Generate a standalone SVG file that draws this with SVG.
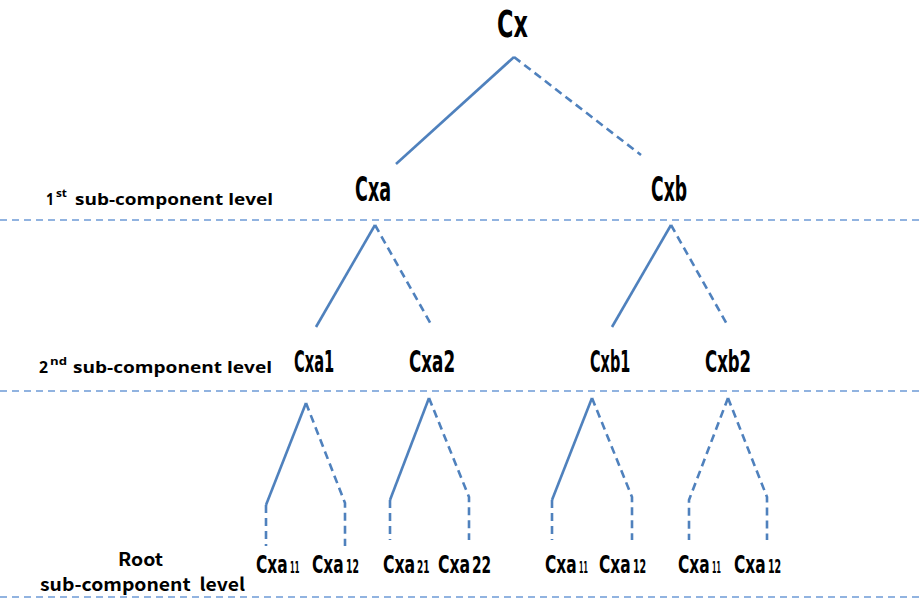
<svg xmlns="http://www.w3.org/2000/svg" width="924" height="601" viewBox="0 0 924 601">
<style>
.bg{fill:#ffffff}
.lvl{fill:none;stroke:#6d9ad6;stroke-width:1.5;stroke-dasharray:7 5}
.s{fill:none;stroke:#4f81bd;stroke-width:2.6;stroke-linecap:butt}
.d{fill:none;stroke:#4f81bd;stroke-width:2.6;stroke-dasharray:8 5}
.n{font-family:"DejaVu Sans",sans-serif;font-weight:bold;fill:#000}
.lab{font-family:"Open Sans","Liberation Sans",sans-serif;font-weight:bold;fill:#000;font-size:16px}
.sup{font-family:"Open Sans","Liberation Sans",sans-serif;font-weight:bold;fill:#000;font-size:10px}
.root{font-family:"Noto Sans CJK KR","Noto Sans",sans-serif;font-weight:bold;fill:#000;font-size:18px}
</style>
<rect class="bg" x="0" y="0" width="924" height="601"/>
<g id="levels">
<line class="lvl" x1="0" y1="220" x2="924" y2="220"/>
<line class="lvl" x1="0" y1="391" x2="924" y2="391"/>
<line class="lvl" x1="0" y1="597" x2="924" y2="597"/>
</g>
<g id="level-labels">
<text class="lab" x="46" y="205" textLength="8" lengthAdjust="spacingAndGlyphs">1</text>
<text class="sup" x="56" y="197" textLength="11" lengthAdjust="spacingAndGlyphs">st</text>
<text class="lab" x="75" y="205" textLength="198" lengthAdjust="spacingAndGlyphs">sub-component level</text>
<text class="lab" x="39" y="373" textLength="9" lengthAdjust="spacingAndGlyphs">2</text>
<text class="sup" x="50" y="365" textLength="17" lengthAdjust="spacingAndGlyphs">nd</text>
<text class="lab" x="73" y="373" textLength="199" lengthAdjust="spacingAndGlyphs">sub-component level</text>
<text class="root" x="118" y="566" textLength="45" lengthAdjust="spacingAndGlyphs">Root</text>
<text class="root" x="40" y="591" textLength="205" lengthAdjust="spacingAndGlyphs" xml:space="preserve">sub-component  level</text>
</g>
<g id="connectors">
<line class="s" x1="514" y1="57" x2="396" y2="164"/>
<line class="d" x1="514" y1="57" x2="641" y2="155"/>
<line class="s" x1="375" y1="225" x2="316" y2="327"/>
<line class="d" x1="375" y1="225" x2="432" y2="326"/>
<line class="s" x1="671" y1="225" x2="612" y2="327"/>
<line class="d" x1="671" y1="225" x2="728" y2="326"/>
<polyline class="s" points="306,403 266,505"/>
<polyline class="d" points="266,505 266,546"/>
<polyline class="d" points="306,403 345,503 345,546"/>
<polyline class="s" points="429,398 390,500"/>
<polyline class="d" points="390,500 390,540"/>
<polyline class="d" points="429,398 469,497 469,540"/>
<polyline class="s" points="592,398 552,500"/>
<polyline class="d" points="552,500 552,540"/>
<polyline class="d" points="592,398 632,497 632,540"/>
<polyline class="d" points="728,398 689,500 689,540"/>
<polyline class="d" points="728,398 767,497 767,540"/>
</g>
<g id="Cx"><text class="n" font-size="37" transform="translate(497,37) scale(0.605,1)">Cx</text></g>
<g id="Cxa"><text class="n" font-size="33" transform="translate(355,201) scale(0.532,1)">Cxa</text></g>
<g id="Cxb"><text class="n" font-size="33" transform="translate(651,201) scale(0.522,1)">Cxb</text></g>
<g id="Cxa1"><text class="n" font-size="30" transform="translate(294,372) scale(0.488,1)">Cxa1</text></g>
<g id="Cxa2"><text class="n" font-size="30" transform="translate(409,372) scale(0.559,1)">Cxa2</text></g>
<g id="Cxb1"><text class="n" font-size="30" transform="translate(590,372) scale(0.481,1)">Cxb1</text></g>
<g id="Cxb2"><text class="n" font-size="30" transform="translate(705,372) scale(0.551,1)">Cxb2</text></g>
<g id="Cxa11-1">
<text class="n" font-size="25" transform="translate(256,573) scale(0.617,1)">Cxa</text>
<text class="n" font-size="15" transform="translate(290,573) scale(0.45,1)">11</text>
</g>
<g id="Cxa12-1">
<text class="n" font-size="25" transform="translate(312,573) scale(0.617,1)">Cxa</text>
<text class="n" font-size="19" transform="translate(346,573) scale(0.49,1)">12</text>
</g>
<g id="Cxa21">
<text class="n" font-size="25" transform="translate(383,573) scale(0.627,1)">Cxa</text>
<text class="n" font-size="18" transform="translate(417,573) scale(0.5,1)">21</text>
</g>
<g id="Cxa22">
<text class="n" font-size="25" transform="translate(438,573) scale(0.627,1)">Cxa</text>
<text class="n" font-size="23" transform="translate(472,573) scale(0.6,1)">22</text>
</g>
<g id="Cxa11-2">
<text class="n" font-size="25" transform="translate(545,573) scale(0.617,1)">Cxa</text>
<text class="n" font-size="15" transform="translate(579,573) scale(0.42,1)">11</text>
</g>
<g id="Cxa12-2">
<text class="n" font-size="25" transform="translate(599,573) scale(0.617,1)">Cxa</text>
<text class="n" font-size="19" transform="translate(633,573) scale(0.5,1)">12</text>
</g>
<g id="Cxa11-3">
<text class="n" font-size="25" transform="translate(678,573) scale(0.617,1)">Cxa</text>
<text class="n" font-size="15" transform="translate(712,573) scale(0.42,1)">11</text>
</g>
<g id="Cxa12-3">
<text class="n" font-size="25" transform="translate(734,573) scale(0.617,1)">Cxa</text>
<text class="n" font-size="19" transform="translate(768,573) scale(0.5,1)">12</text>
</g>
</svg>
